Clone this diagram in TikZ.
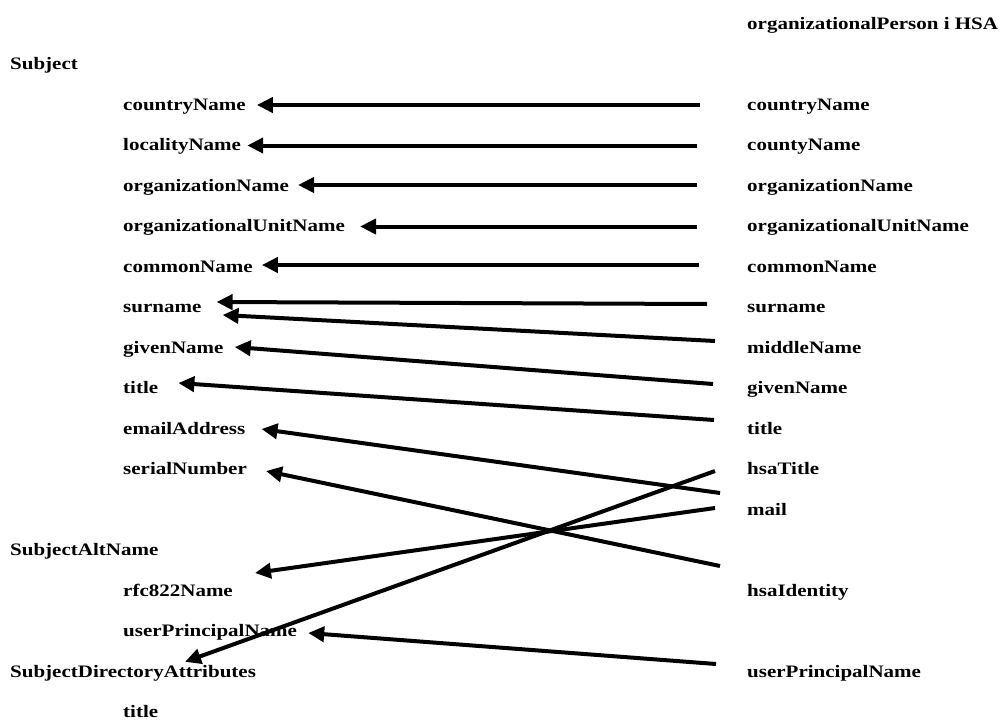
\documentclass[tikz,border=0pt]{standalone}
\usepackage{fontspec}
\setmainfont{Liberation Serif}[FakeStretch=1.2]
\usepackage{tikz}
\usetikzlibrary{arrows.meta}
\tikzset{lbl/.style={anchor=base west, inner sep=0pt, text height=13pt, text depth=3pt,
  font=\fontsize{17.5}{20}\selectfont\bfseries}}
\tikzset{maplink/.style={line width=4pt, -{Triangle[length=16pt,width=15pt]}}}

\begin{document}
\begin{tikzpicture}[x=1pt, y=-1pt]
      \useasboundingbox (0, 0) rectangle (1001, 720);

      % headings
      \node [lbl] (hsa) at (747, 29) {organizationalPerson i HSA};
      \node [lbl] (subj) at (10, 69.5) {Subject};
      \node [lbl] (subjalt) at (10, 555.5) {SubjectAltName};
      \node [lbl] (lsda) at (10, 677) {SubjectDirectoryAttributes};

      % certificate side
      \node [lbl] (lcountry) at (123, 110) {countryName};
      \node [lbl] (llocality) at (123, 150.5) {localityName};
      \node [lbl] (lorg) at (123, 191) {organizationName};
      \node [lbl] (lou) at (123, 231.5) {organizationalUnitName};
      \node [lbl] (lcommon) at (123, 272) {commonName};
      \node [lbl] (lsurname) at (123, 312.5) {surname};
      \node [lbl] (lgiven) at (123, 353) {givenName};
      \node [lbl] (ltitle) at (123, 393.5) {title};
      \node [lbl] (lemail) at (123, 434) {emailAddress};
      \node [lbl] (lserial) at (123, 474.5) {serialNumber};
      \node [lbl] (lrfc) at (123, 596) {rfc822Name};
      \node [lbl] (lupn) at (123, 636.5) {userPrincipalName};
      \node [lbl] (lsdatitle) at (123, 717.5) {title};

      % HSA side
      \node [lbl] (rcountry) at (747, 110) {countryName};
      \node [lbl] (rcounty) at (747, 150.5) {countyName};
      \node [lbl] (rorg) at (747, 191) {organizationName};
      \node [lbl] (rou) at (747, 231.5) {organizationalUnitName};
      \node [lbl] (rcommon) at (747, 272) {commonName};
      \node [lbl] (rsurname) at (747, 312.5) {surname};
      \node [lbl] (rmiddle) at (747, 353) {middleName};
      \node [lbl] (rgiven) at (747, 393.5) {givenName};
      \node [lbl] (rtitle) at (747, 434) {title};
      \node [lbl] (rhsatitle) at (747, 474.5) {hsaTitle};
      \node [lbl] (rmail) at (747, 515) {mail};
      \node [lbl] (rhsaid) at (747, 596) {hsaIdentity};
      \node [lbl] (rupn) at (747, 677) {userPrincipalName};

      % mappings
      \draw [maplink] ([xshift=-47pt]rcountry.west) -- ([xshift=11pt]lcountry.east);
      \draw [maplink] ([xshift=-50pt]rcounty.west) -- ([xshift=6pt]llocality.east);
      \draw [maplink] ([xshift=-50pt,yshift=1pt]rorg.west) -- ([xshift=9pt,yshift=1pt]lorg.east);
      \draw [maplink] ([xshift=-50pt]rou.west) -- ([xshift=15pt]lou.east);
      \draw [maplink] ([xshift=-48pt,yshift=2pt]rcommon.west) -- ([xshift=9pt,yshift=2pt]lcommon.east);
      \draw [maplink] ([xshift=-40pt,yshift=3.5pt]rsurname.west) -- ([xshift=15pt,yshift=5.5pt]lsurname.east);
      \draw [maplink] ([xshift=-32pt,yshift=7pt]rmiddle.west) -- ([xshift=21pt,yshift=-7.5pt]lsurname.east);
      \draw [maplink] ([xshift=-34pt,yshift=4.5pt]rgiven.west) -- ([xshift=11pt,yshift=1pt]lgiven.east);
      \draw [maplink] ([xshift=-33pt,yshift=9pt]rtitle.west) -- ([xshift=20pt,yshift=5.5pt]ltitle.east);
      \draw [maplink] ([xshift=-27pt,yshift=17pt]rmail.west) -- ([xshift=16pt]lemail.east);
      \draw [maplink] ([xshift=-27pt,yshift=25pt]rhsaid.west) -- ([xshift=19pt,yshift=-1.5pt]lserial.east);
      \draw [maplink] ([xshift=-32pt,yshift=2pt]rmail.west) -- ([xshift=22pt,yshift=18pt]lrfc.east);
      \draw [maplink] ([xshift=-32pt,yshift=-1.5pt]rhsatitle.west) -- ([xshift=175pt,yshift=2pt]lsda.north west);
      \draw [maplink] ([xshift=-31pt,yshift=8pt]rupn.west) -- ([xshift=11pt,yshift=-1.5pt]lupn.east);
    \end{tikzpicture}
\end{document}
